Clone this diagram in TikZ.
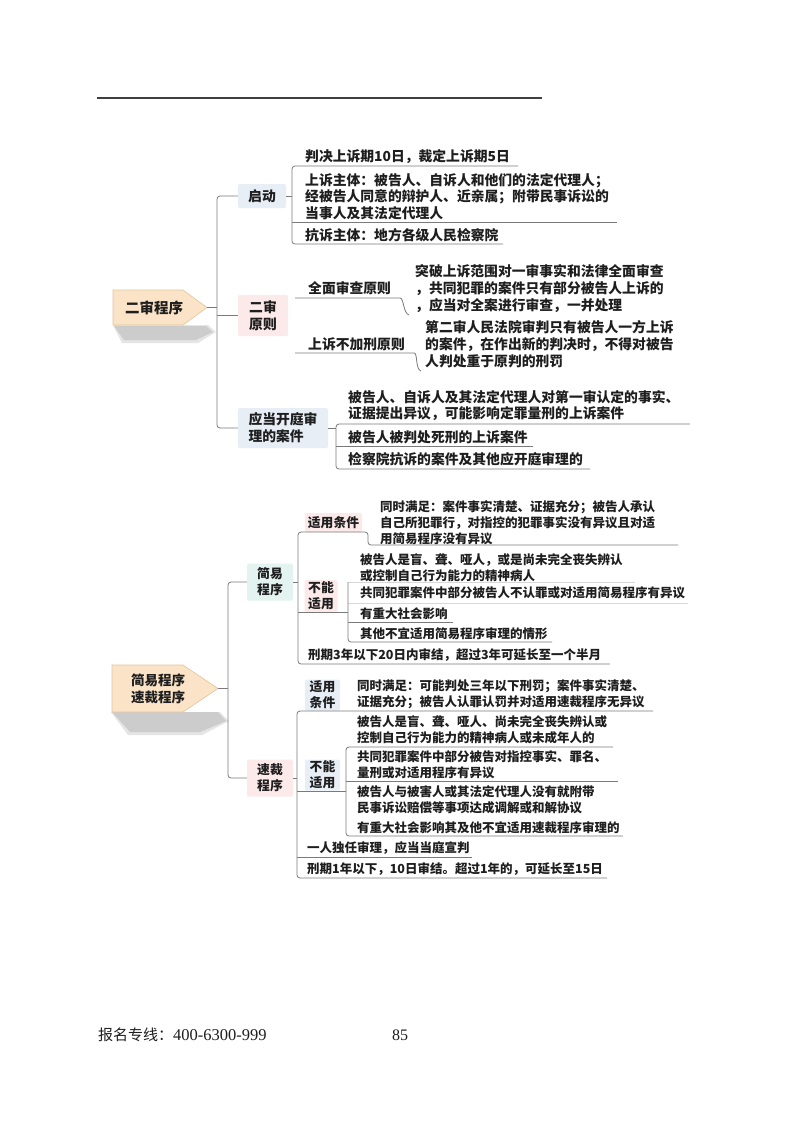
\documentclass[tikz,border=0pt]{standalone}
\usepackage{fontspec}
\setmainfont{Noto Sans CJK SC}
\newfontfamily\tms{Liberation Serif}
\definecolor{rootfill}{HTML}{FAE3C6}
\definecolor{rootline}{HTML}{E3C49B}
\definecolor{bluef}{HTML}{E8EEF6}
\definecolor{pinkf}{HTML}{FCE9EA}
\definecolor{mintf}{HTML}{E3F3EF}
\definecolor{lnc}{HTML}{7A7A7A}
\definecolor{txt}{HTML}{1E1E1E}
\tikzset{
 conn/.style={draw=lnc, line width=0.8pt, rounded corners=3pt},
 faint/.style={draw=lnc!30, line width=0.6pt},
 ta/.style={anchor=west, inner sep=0pt, align=left, text=txt, font=\fontsize{13.8}{16.8}\selectfont\bfseries},
 tb/.style={anchor=west, inner sep=0pt, align=left, text=txt, font=\fontsize{12.5}{15.8}\selectfont\bfseries},
 boxa/.style={inner sep=0pt, align=center, text=txt, rounded corners=1.5pt, font=\fontsize{13.8}{16.8}\selectfont\bfseries},
 boxb/.style={inner sep=0pt, align=center, text=txt, rounded corners=1.5pt, font=\fontsize{12.8}{15.8}\selectfont\bfseries},
 shadowc/.style={fill=black!20},
 rootc/.style={fill=rootfill, draw=rootline, line width=0.6pt}
}
\begin{document}
\begin{tikzpicture}[x=1pt,y=-1pt]
\useasboundingbox[fill=white] (0,0) rectangle (800,1124);
\draw[line width=1.3pt, draw=black!75] (97,98) -- (542,98);

% ---------------- Section 1 ----------------
\fill[black!10] (113,325) -- (208,325) -- (216,332) -- (198,343) -- (122,343) -- cycle;
\fill[shadowc] (114,326) -- (206,326) -- (213,332) -- (196,340) -- (124,340) -- cycle;
\filldraw[rootc] (113,290) -- (183,290) -- (207,307.5) -- (183,325) -- (113,325) -- cycle;
\node[boxa, font=\fontsize{14.5}{17}\selectfont\bfseries] (root1) at (154,308) {二审程序};
\coordinate (r1tip) at (207,307.5);
\coordinate (t1) at (217,307.5);

\node[boxa, fill=bluef, minimum width=48pt, minimum height=24pt] (qidong) at (262,196) {启动};
\node[boxa, fill=pinkf, minimum width=50pt, minimum height=41pt] (yuanze) at (263,315.5) {二审\\原则};
\node[boxa, fill=bluef, minimum width=90pt, minimum height=40pt, align=left] (kaiting) at (283,428) {应当开庭审\\理的案件};

\draw[conn] (r1tip) -- (t1);
\draw[conn] (qidong.west) -| (t1) |- (kaiting.west);
\draw[conn] (t1 |- yuanze.west) -- (yuanze.west);

% qidong children
\node[ta] (q1) at (305,157) {判决上诉期10日，裁定上诉期5日};
\node[ta] (q2) at (305,196.5) {上诉主体：被告人、自诉人和他们的法定代理人；\\经被告人同意的辩护人、近亲属；附带民事诉讼的\\当事人及其法定代理人};
\node[ta] (q3) at (305,235) {抗诉主体：地方各级人民检察院};
\coordinate (qb1) at (292,166); \coordinate (qe1) at (518,166);
\coordinate (qb2) at (292,222); \coordinate (qe2) at (617,222);
\coordinate (qb3) at (292,244); \coordinate (qe3) at (503,244);
\draw[conn] (qe1) -- (qb1) -- (qb3) -- (qe3);
\draw[conn] (qb2) -- (qe2);
\draw[conn] (qidong.east) -- (qidong.east -| qb1);

% yuanze children
\node[ta] (y1) at (308,288) {全面审查原则};
\node[ta] (y1d) at (415,288.5) {突破上诉范围对一审事实和法律全面审查\\，共同犯罪的案件只有部分被告人上诉的\\，应当对全案进行审查，一并处理};
\node[ta] (y2) at (308,344) {上诉不加刑原则};
\node[ta] (y2d) at (425,344) {第二审人民法院审判只有被告人一方上诉\\的案件，在作出新的判决时，不得对被告\\人判处重于原判的刑罚};
\coordinate (yb1) at (295,298); \coordinate (ye1) at (397,298); \coordinate (yc1) at (409,315);
\coordinate (yb2) at (295,353); \coordinate (ye2) at (411,353); \coordinate (yc2) at (421,371);
\draw[conn] (yb1) -- (ye1) .. controls (404,298) and (403,313) .. (yc1);
\draw[conn] (yb2) -- (ye2) .. controls (418,353) and (415,369) .. (yc2);

% kaiting children
\node[ta] (k1) at (348,405.5) {被告人、自诉人及其法定代理人对第一审认定的事实、\\证据提出异议，可能影响定罪量刑的上诉案件};
\node[ta] (k2) at (348,437) {被告人被判处死刑的上诉案件};
\node[ta] (k3) at (348,459) {检察院抗诉的案件及其他应开庭审理的};
\coordinate (kb1) at (336,424); \coordinate (ke1) at (690,424);
\coordinate (kb2) at (336,446); \coordinate (ke2) at (533,446);
\coordinate (kb3) at (336,469); \coordinate (ke3) at (590,469);
\draw[conn] (ke1) -- (kb1) -- (kb3) -- (ke3);
\draw[conn] (kb2) -- (ke2);
\draw[conn] (kaiting.east) -- (kaiting.east -| kb1);

% ---------------- Section 2 ----------------
\fill[black!10] (111,712) -- (220,712) -- (229,721) -- (202,735) -- (128,735) -- cycle;
\fill[shadowc] (112,712) -- (218,712) -- (226,721) -- (200,732) -- (130,732) -- cycle;
\filldraw[rootc] (112,665) -- (183,665) -- (218,688.5) -- (183,712) -- (112,712) -- cycle;
\node[boxb, font=\fontsize{13.5}{17}\selectfont\bfseries] (root2) at (158,688.5) {简易程序\\速裁程序};
\coordinate (r2tip) at (218,688.5);
\coordinate (t2) at (228,688.5);

\node[boxb, fill=mintf, minimum width=46pt, minimum height=37pt] (jianyi) at (270,582) {简易\\程序};
\node[boxb, fill=pinkf, minimum width=46pt, minimum height=37pt] (suicai) at (270,778) {速裁\\程序};
\draw[conn] (r2tip) -- (t2);
\draw[conn] (jianyi.west) -| (t2) |- (suicai.west);

% jianyi children
\node[boxb, fill=pinkf, minimum width=57pt, minimum height=19pt] (sytj1) at (333.5,522.5) {适用条件};
\node[tb] (s1) at (380,523) {同时满足：案件事实清楚、证据充分；被告人承认\\自己所犯罪行，对指控的犯罪事实没有异议且对适\\用简易程序没有异议};
\node[boxb, fill=pinkf, minimum width=33pt, minimum height=32pt] (bnsy1) at (321,596) {不能\\适用};
\node[tb] (n1) at (360,567.5) {被告人是盲、聋、哑人，或是尚未完全丧失辨认\\或控制自己行为能力的精神病人};
\node[tb] (n2) at (360,593) {共同犯罪案件中部分被告人不认罪或对适用简易程序有异议};
\node[tb] (n3) at (360,613.5) {有重大社会影响};
\node[tb] (n4) at (360,634) {其他不宜适用简易程序审理的情形};
\node[tb] (x1) at (308,655) {刑期3年以下20日内审结，超过3年可延长至一个半月};

\coordinate (jb1) at (298,532); \coordinate (jm1) at (368,532);
\coordinate (jn1) at (368,545); \coordinate (je1) at (678,545);
\coordinate (jb2) at (298,612); \coordinate (jm2) at (348,612);
\coordinate (jb3) at (298,664); \coordinate (je3) at (610,664);
\draw[conn] (je1) -- (jn1) -- (jm1) -- (jb1) -- (jb3) -- (je3);
\draw[conn] (jb2) -- (jm2);
\draw[conn] (jianyi.east) -- (jianyi.east -| jb1);

\coordinate (nb1) at (348,582); \coordinate (ne1) at (635,582);
\coordinate (nb2) at (348,603); \coordinate (ne2) at (688,603);
\coordinate (nb3) at (348,622); \coordinate (ne3) at (453,622);
\coordinate (nb4) at (348,642); \coordinate (ne4) at (552,642);
\draw[faint] (nb1) -- (ne1);
\draw[faint] (nb2) -- (ne2);
\draw[conn] (nb1) -- (nb4) -- (ne4);
\draw[conn] (nb3) -- (ne3);

% suicai children
\node[boxb, fill=bluef, minimum width=35pt, minimum height=31pt] (sytj2) at (322.5,695) {适用\\条件};
\node[tb] (c1) at (357,694.5) {同时满足：可能判处三年以下刑罚；案件事实清楚、\\证据充分；被告人认罪认罚并对适用速裁程序无异议};
\node[boxb, fill=bluef, minimum width=35pt, minimum height=31pt] (bnsy2) at (322.5,775) {不能\\适用};
\node[tb] (m1) at (357,730) {被告人是盲、聋、哑人、尚未完全丧失辨认或\\控制自己行为能力的精神病人或未成年人的};
\node[tb] (m2) at (357,765) {共同犯罪案件中部分被告对指控事实、罪名、\\量刑或对适用程序有异议};
\node[tb] (m3) at (357,800) {被告人与被害人或其法定代理人没有就附带\\民事诉讼赔偿等事项达成调解或和解协议};
\node[tb] (m4) at (357,828) {有重大社会影响其及他不宜适用速裁程序审理的};
\node[tb] (d1) at (307,848) {一人独任审理，应当当庭宣判};
\node[tb] (d2) at (307,869) {刑期1年以下，10日审结。超过1年的，可延长至15日};

\coordinate (sb1) at (297,711); \coordinate (se1) at (653,711);
\coordinate (sb2) at (297,791); \coordinate (sm2) at (346,791);
\coordinate (sb3) at (297,857); \coordinate (se3) at (472,857);
\coordinate (sb4) at (297,878); \coordinate (se4) at (607,878);
\draw[conn] (se1) -- (sb1) -- (sb4) -- (se4);
\draw[conn] (sb3) -- (se3);
\draw[conn] (sb2) -- (sm2);
\draw[conn] (suicai.east) -- (suicai.east -| sb1);

\coordinate (mb1) at (346,747); \coordinate (me1) at (613,747);
\coordinate (mb2) at (346,781); \coordinate (me2) at (618,781);
\coordinate (mb4) at (346,836); \coordinate (me4) at (623,836);
\draw[conn] (me1) -- (mb1) -- (mb4) -- (me4);
\draw[conn] (mb2) -- (me2);

% footer
\node[anchor=west, inner sep=0pt, text=txt, font=\fontsize{15}{18}\selectfont] (foot) at (98,1035) {报名专线：{\tms\fontsize{16.5}{18}\selectfont 400-6300-999}};
\node[inner sep=0pt, text=txt, font=\tms\fontsize{16}{18}\selectfont] (pg) at (400,1035) {85};
\end{tikzpicture}
\end{document}
